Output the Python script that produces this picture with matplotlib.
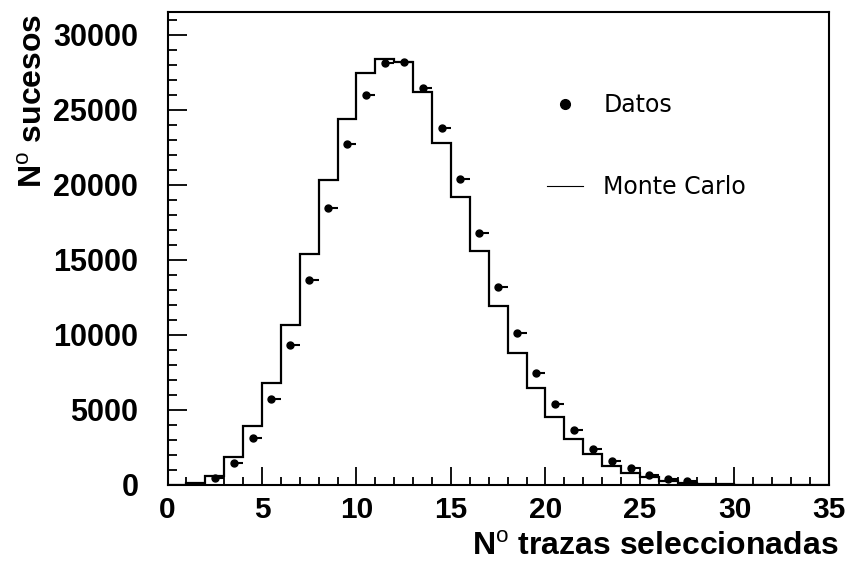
import numpy as np
import matplotlib
matplotlib.use("Agg")
import matplotlib.pyplot as plt
from matplotlib.lines import Line2D
from matplotlib.ticker import MultipleLocator

plt.rcParams['font.family'] = ['Liberation Sans', 'DejaVu Sans']
plt.rcParams['mathtext.fontset'] = 'custom'
plt.rcParams['mathtext.rm'] = 'Liberation Sans'
plt.rcParams['mathtext.bf'] = 'Liberation Sans:bold'

# Monte Carlo histogram, one value per unit bin from 0 to 35
edges = np.arange(0, 36)
mc = [0, 130, 600, 1870, 3930, 6780, 10670, 15400, 20330, 24380,
      27440, 28360, 28160, 26160, 22820, 19170, 15580, 11930, 8820, 6440,
      4510, 3070, 2040, 1270, 820, 540, 280, 150, 90, 40,
      20, 10, 0, 0, 0]

# measured counts, bins 2..27
datos_x = np.arange(2, 28) + 0.5
datos = [440, 1490, 3110, 5710, 9330, 13670, 18440, 22710, 26020, 28110,
         28160, 26490, 23780, 20400, 16820, 13220, 10160, 7440, 5380, 3670,
         2420, 1600, 1100, 670, 380, 270]

fig = plt.figure(figsize=(8.49, 5.61), dpi=100)
ax = fig.add_axes([0.1973, 0.1355, 0.9764 - 0.1973, 0.978 - 0.1355])

ax.stairs(mc, edges, color='black', lw=1.6)
ax.errorbar(datos_x, datos,
            xerr=[np.zeros(len(datos)), np.full(len(datos), 0.5)],
            fmt='o', color='black', ms=5, elinewidth=1.5, capsize=0)

ax.set_xlim(0, 35)
ax.set_ylim(0, 31500)
ax.xaxis.set_major_locator(MultipleLocator(5))
ax.xaxis.set_minor_locator(MultipleLocator(1))
ax.yaxis.set_major_locator(MultipleLocator(5000))
ax.yaxis.set_minor_locator(MultipleLocator(1000))

for s in ax.spines.values():
    s.set_linewidth(1.5)
ax.tick_params(which='both', direction='in', top=False, right=False,
               width=1.3, labelsize=21.5)
ax.tick_params(axis='y', which='major', length=13.5, pad=21, labelsize=22)
ax.tick_params(axis='y', which='minor', length=6.5)
ax.tick_params(axis='x', which='major', length=13, pad=8)
ax.tick_params(axis='x', which='minor', length=6)
for lab in ax.get_xticklabels() + ax.get_yticklabels():
    lab.set_fontweight('bold')

ax.set_xlabel(r'N$^{\mathrm{o}}$ trazas seleccionadas', fontsize=23,
              fontweight='bold', loc='right')
ax.xaxis.set_label_coords(1.0136, -0.099)
ax.set_ylabel(r'N$^{\mathrm{o}}$ sucesos', fontsize=23,
              fontweight='bold', loc='top')
ax.yaxis.set_label_coords(-0.180, 0.998)

handles = [Line2D([], [], ls='none', marker='o', color='black', ms=7),
           Line2D([], [], color='black', lw=0.8)]
ax.legend(handles, ['Datos', 'Monte Carlo'], loc='upper left',
          bbox_to_anchor=(0.5737, 0.829), frameon=False,
          prop={'family': 'DejaVu Sans', 'size': 17},
          handlelength=1.53, handletextpad=0.85, labelspacing=2.47,
          borderpad=0, borderaxespad=0)

fig.savefig('out.png', dpi=100)
